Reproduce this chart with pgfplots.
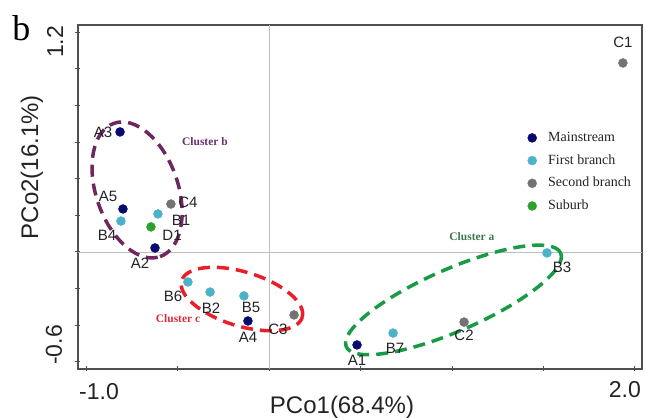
\documentclass[border=0pt]{standalone}
\usepackage{pgfplots}
\pgfplotsset{compat=1.18}
\usepackage{fontspec}
\setmainfont{Liberation Sans}
\newfontfamily\serif{Liberation Serif}
\definecolor{mainc}{RGB}{10,10,110}
\definecolor{firstc}{RGB}{75,178,200}
\definecolor{secondc}{RGB}{115,115,115}
\definecolor{suburbc}{RGB}{45,160,45}
\definecolor{framec}{RGB}{80,80,80}
\definecolor{zeroc}{RGB}{190,190,190}
\definecolor{clA}{RGB}{25,155,70}
\definecolor{clAt}{RGB}{60,120,80}
\definecolor{clB}{RGB}{110,40,95}
\definecolor{clBt}{RGB}{105,45,105}
\definecolor{clC}{RGB}{232,30,40}
\definecolor{clCt}{RGB}{220,45,55}
\definecolor{labc}{RGB}{35,35,35}
\begin{document}
\begin{tikzpicture}
\begin{axis}[
  x=183bp, y=183bp,
  xmin=-1.044, xmax=2.038, ymin=-0.639, ymax=1.240,
  axis line style={framec, line width=1.2bp},
  xtick={-1,-0.5,0,0.5,1,1.5,2},
  ytick={-0.6,-0.4,-0.2,0,0.2,0.4,0.6,0.8,1.0,1.2},
  xticklabels={}, yticklabels={},
  tick pos=left, tick align=center,
  major tick length=5bp,
  tick style={framec, line width=1bp},
  clip=false,
  legend cell align=left,
  legend image code/.code={\draw[mark repeat=1,mark phase=1,#1] plot coordinates {(0bp,0bp)};},
  legend style={draw=none, fill=none, inner sep=0pt,
    font=\serif\fontsize{14bp}{16bp}\selectfont, text=labc,
    at={(axis cs:1.4126,0.66)}, anchor=north west,
    nodes={inner sep=0pt, text height=10bp, text depth=3bp},
    row sep=9.7bp, column sep=11.5bp},
]
% zero reference lines
\draw[zeroc, line width=0.8bp] (axis cs:0,-0.639) -- (axis cs:0,1.240);
\draw[zeroc, line width=0.8bp] (axis cs:-1.044,0) -- (axis cs:2.038,0);

% cluster ellipses
\draw[clB, line width=3.5bp, dash pattern=on 12bp off 7bp, rotate around={-71:(axis cs:-0.721,0.339)}]
  (axis cs:-0.721,0.339) ellipse [x radius=70.5bp, y radius=41bp];
\draw[clC, line width=3.5bp, dash pattern=on 12bp off 7bp, rotate around={-17:(axis cs:-0.148,-0.257)}]
  (axis cs:-0.148,-0.257) ellipse [x radius=63bp, y radius=27bp];
\draw[clA, line width=3.5bp, dash pattern=on 12bp off 7bp, rotate around={23.6:(axis cs:1.008,-0.262)}]
  (axis cs:1.008,-0.262) ellipse [x radius=117bp, y radius=31bp];

\addplot[only marks, mark=*, mark size=4.5bp, color=mainc, mark options={draw=mainc, fill=mainc}]
  coordinates {(0.481,-0.508) (-0.623,0.022) (-0.814,0.656) (-0.115,-0.377) (-0.798,0.235)};
\addlegendentry{Mainstream}
\addplot[only marks, mark=*, mark size=4.5bp, color=firstc, mark options={draw=firstc, fill=firstc}]
  coordinates {(-0.607,0.208) (-0.322,-0.219) (1.519,-0.005) (-0.809,0.169) (-0.137,-0.240) (-0.443,-0.164) (0.678,-0.443)};
\addlegendentry{First branch}
\addplot[only marks, mark=*, mark size=4.5bp, color=secondc, mark options={draw=secondc, fill=secondc}]
  coordinates {(1.934,1.033) (1.066,-0.383) (0.137,-0.344) (-0.536,0.262)};
\addlegendentry{Second branch}
\addplot[only marks, mark=*, mark size=4.5bp, color=suburbc, mark options={draw=suburbc, fill=suburbc}]
  coordinates {(-0.645,0.137)};
\addlegendentry{Suburb}

% point labels
\begin{scope}[every node/.style={font=\fontsize{15bp}{17bp}\selectfont, text=labc, inner sep=0pt}]
\node at (axis cs:-0.907,0.656) {A3};
\node at (axis cs:-0.880,0.306) {A5};
\node at (axis cs:-0.885,0.093) {B4};
\node at (axis cs:-0.443,0.273) {C4};
\node at (axis cs:-0.481,0.175) {B1};
\node at (axis cs:-0.530,0.093) {D1};
\node at (axis cs:-0.705,-0.060) {A2};
\node at (axis cs:-0.525,-0.240) {B6};
\node at (axis cs:-0.317,-0.306) {B2};
\node at (axis cs:-0.098,-0.301) {B5};
\node at (axis cs:-0.115,-0.464) {A4};
\node at (axis cs:0.049,-0.421) {C3};
\node at (axis cs:0.481,-0.590) {A1};
\node at (axis cs:0.689,-0.525) {B7};
\node at (axis cs:1.066,-0.454) {C2};
\node at (axis cs:1.601,-0.082) {B3};
\node at (axis cs:1.934,1.148) {C1};
\end{scope}

% cluster labels
\node[text=clBt, font=\serif\bfseries\fontsize{11.5bp}{13bp}\selectfont] at (axis cs:-0.350,0.601) {Cluster b};
\node[text=clCt, font=\serif\bfseries\fontsize{11.5bp}{13bp}\selectfont] at (axis cs:-0.497,-0.366) {Cluster c};
\node[text=clAt, font=\serif\bfseries\fontsize{11.5bp}{13bp}\selectfont] at (axis cs:1.109,0.082) {Cluster a};

% tick labels
\node[font=\fontsize{23bp}{26bp}\selectfont, text=labc] at (axis cs:-0.929,-0.765) {-1.0};
\node[font=\fontsize{23bp}{26bp}\selectfont, text=labc] at (axis cs:1.945,-0.754) {2.0};
\node[font=\fontsize{23bp}{26bp}\selectfont, text=labc, rotate=90] at (axis cs:-1.169,1.148) {1.2};
\node[font=\fontsize{23bp}{26bp}\selectfont, text=labc, rotate=90] at (axis cs:-1.175,-0.508) {-0.6};

% axis titles
\node[font=\fontsize{24bp}{27bp}\selectfont, text=labc, anchor=base, inner sep=0pt] at (axis cs:0.399,-0.880) {PCo1(68.4\%)};
\node[font=\fontsize{24bp}{27bp}\selectfont, text=labc, rotate=90] at (axis cs:-1.295,0.464) {PCo2(16.1\%)};

% panel letter
\node[font=\serif\fontsize{36bp}{40bp}\selectfont, anchor=base west, inner sep=0pt] at (axis cs:-1.404,1.158) {b};

\coordinate (BL) at (axis cs:-1.470,-0.9126);
\coordinate (TR) at (axis cs:2.0656,1.377);
\end{axis}
\pgfresetboundingbox
\path[use as bounding box] (BL) rectangle (TR);
\end{tikzpicture}
\end{document}
